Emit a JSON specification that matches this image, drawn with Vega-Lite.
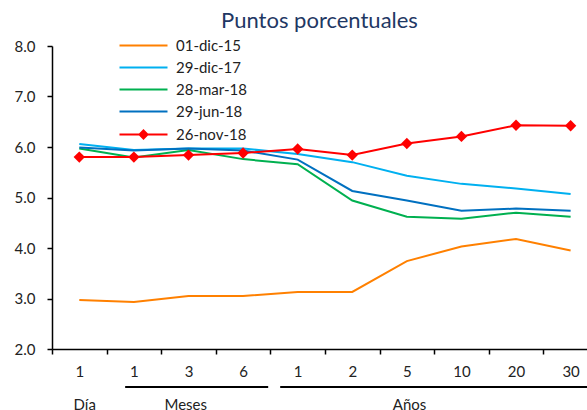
{
  "$schema": "https://vega.github.io/schema/vega-lite/v6.json",
  "width": 535,
  "height": 303,
  "autosize": {"type": "none"},
  "padding": {"left": 52, "top": 46, "right": 0, "bottom": 61},
  "background": "white",
  "config": {"font": "Lato", "view": {"stroke": null}},
  "title": {"text": "Puntos porcentuales", "fontSize": 22, "font": "Lato", "fontWeight": "normal", "color": "#1F3864", "anchor": "middle", "frame": "group", "baseline": "alphabetic", "offset": -12},
  "datasets": {
    "curvas": [
      {"serie": "01-dic-15", "t": 1, "valor": 2.97}, {"serie": "01-dic-15", "t": 2, "valor": 2.93}, {"serie": "01-dic-15", "t": 3, "valor": 3.05}, {"serie": "01-dic-15", "t": 4, "valor": 3.05}, {"serie": "01-dic-15", "t": 5, "valor": 3.13}, {"serie": "01-dic-15", "t": 6, "valor": 3.13}, {"serie": "01-dic-15", "t": 7, "valor": 3.74}, {"serie": "01-dic-15", "t": 8, "valor": 4.03}, {"serie": "01-dic-15", "t": 9, "valor": 4.18}, {"serie": "01-dic-15", "t": 10, "valor": 3.95},
      {"serie": "29-dic-17", "t": 1, "valor": 6.06}, {"serie": "29-dic-17", "t": 2, "valor": 5.94}, {"serie": "29-dic-17", "t": 3, "valor": 5.97}, {"serie": "29-dic-17", "t": 4, "valor": 5.97}, {"serie": "29-dic-17", "t": 5, "valor": 5.86}, {"serie": "29-dic-17", "t": 6, "valor": 5.70}, {"serie": "29-dic-17", "t": 7, "valor": 5.43}, {"serie": "29-dic-17", "t": 8, "valor": 5.27}, {"serie": "29-dic-17", "t": 9, "valor": 5.18}, {"serie": "29-dic-17", "t": 10, "valor": 5.07},
      {"serie": "28-mar-18", "t": 1, "valor": 5.97}, {"serie": "28-mar-18", "t": 2, "valor": 5.79}, {"serie": "28-mar-18", "t": 3, "valor": 5.94}, {"serie": "28-mar-18", "t": 4, "valor": 5.76}, {"serie": "28-mar-18", "t": 5, "valor": 5.66}, {"serie": "28-mar-18", "t": 6, "valor": 4.94}, {"serie": "28-mar-18", "t": 7, "valor": 4.62}, {"serie": "28-mar-18", "t": 8, "valor": 4.58}, {"serie": "28-mar-18", "t": 9, "valor": 4.70}, {"serie": "28-mar-18", "t": 10, "valor": 4.62},
      {"serie": "29-jun-18", "t": 1, "valor": 5.99}, {"serie": "29-jun-18", "t": 2, "valor": 5.93}, {"serie": "29-jun-18", "t": 3, "valor": 5.97}, {"serie": "29-jun-18", "t": 4, "valor": 5.93}, {"serie": "29-jun-18", "t": 5, "valor": 5.75}, {"serie": "29-jun-18", "t": 6, "valor": 5.13}, {"serie": "29-jun-18", "t": 7, "valor": 4.94}, {"serie": "29-jun-18", "t": 8, "valor": 4.74}, {"serie": "29-jun-18", "t": 9, "valor": 4.78}, {"serie": "29-jun-18", "t": 10, "valor": 4.74},
      {"serie": "26-nov-18", "t": 1, "valor": 5.80}, {"serie": "26-nov-18", "t": 2, "valor": 5.80}, {"serie": "26-nov-18", "t": 3, "valor": 5.84}, {"serie": "26-nov-18", "t": 4, "valor": 5.88}, {"serie": "26-nov-18", "t": 5, "valor": 5.96}, {"serie": "26-nov-18", "t": 6, "valor": 5.84}, {"serie": "26-nov-18", "t": 7, "valor": 6.07}, {"serie": "26-nov-18", "t": 8, "valor": 6.21}, {"serie": "26-nov-18", "t": 9, "valor": 6.43}, {"serie": "26-nov-18", "t": 10, "valor": 6.42}
    ],
    "grupos": [
      {"grupo": "Día", "centro": 1.1},
      {"grupo": "Meses", "centro": 2.95, "desde": 1.84, "hasta": 4.46},
      {"grupo": "Años", "centro": 7.05, "desde": 4.68, "hasta": 10.3}
    ]
  },
  "layer": [
    {
      "data": {"name": "curvas"},
      "mark": {"type": "line", "strokeWidth": 2},
      "encoding": {
        "x": {
          "field": "t", "type": "quantitative",
          "scale": {"domain": [0.5, 10.3], "nice": false, "zero": false},
          "axis": {
            "title": null,
            "values": [1, 2, 3, 4, 5, 6, 7, 8, 9, 10],
            "labelExpr": "datum.value == 1 ? '1' : datum.value == 2 ? '1' : datum.value == 3 ? '3' : datum.value == 4 ? '6' : datum.value == 5 ? '1' : datum.value == 6 ? '2' : datum.value == 7 ? '5' : datum.value == 8 ? '10' : datum.value == 9 ? '20' : '30'",
            "tickOffset": -27.3,
            "labelOffset": 27.3,
            "grid": false,
            "domainColor": "#000000", "domainWidth": 1.5,
            "tickColor": "#000000", "tickWidth": 1.5, "tickSize": 5,
            "labelFontSize": 15, "labelColor": "#222222", "labelPadding": 10,
            "labelFlush": false, "labelOverlap": false
          }
        },
        "y": {
          "field": "valor", "type": "quantitative",
          "scale": {"domain": [2, 8], "nice": false, "zero": false},
          "axis": {
            "title": null,
            "values": [2, 3, 4, 5, 6, 7, 8],
            "format": ".1f",
            "grid": false,
            "domainColor": "#000000", "domainWidth": 1.5,
            "tickColor": "#000000", "tickWidth": 1.5, "tickSize": 5,
            "labelFontSize": 15, "labelColor": "#222222", "labelPadding": 12
          }
        },
        "color": {
          "field": "serie", "type": "nominal",
          "scale": {
            "domain": ["01-dic-15", "29-dic-17", "28-mar-18", "29-jun-18", "26-nov-18"],
            "range": ["#FF8000", "#00B0F0", "#00B050", "#0070C0", "#FF0000"]
          },
          "legend": {
            "orient": "none", "legendX": 84, "legendY": -8,
            "title": null, "padding": 0,
            "symbolType": "M-4.8,0H4.8", "symbolSize": 100, "symbolStrokeWidth": 2,
            "labelFontSize": 15, "labelColor": "#222222", "labelOffset": 25, "labelLimit": 200,
            "rowPadding": 6,
            "encode": {
              "symbols": {
                "update": {
                  "shape": {"signal": "datum.value === '26-nov-18' ? 'M-4.8,0H4.8M0,-0.8L0.8,0L0,0.8L-0.8,0Z' : 'M-4.8,0H4.8'"},
                  "fill": {"signal": "datum.value === '26-nov-18' ? '#FF0000' : 'transparent'"}
                }
              }
            }
          }
        }
      }
    },
    {
      "data": {"name": "curvas"},
      "transform": [{"filter": "datum.serie === '26-nov-18'"}],
      "mark": {"type": "point", "shape": "diamond", "filled": true, "size": 130, "color": "#FF0000", "opacity": 1},
      "encoding": {
        "x": {"field": "t", "type": "quantitative", "scale": {"domain": [0.5, 10.3], "nice": false, "zero": false}},
        "y": {"field": "valor", "type": "quantitative", "scale": {"domain": [2, 8], "nice": false, "zero": false}}
      }
    },
    {
      "data": {"name": "grupos"},
      "transform": [{"filter": "isValid(datum.desde)"}],
      "mark": {"type": "rule", "strokeWidth": 2, "color": "#000000"},
      "encoding": {
        "x": {"field": "desde", "type": "quantitative", "scale": {"domain": [0.5, 10.3], "nice": false, "zero": false}},
        "x2": {"field": "hasta"},
        "y": {"datum": 1.25, "type": "quantitative", "scale": {"domain": [2, 8], "nice": false, "zero": false}}
      }
    },
    {
      "data": {"name": "grupos"},
      "mark": {"type": "text", "fontSize": 15, "color": "#222222", "baseline": "middle", "align": "center"},
      "encoding": {
        "x": {"field": "centro", "type": "quantitative", "scale": {"domain": [0.5, 10.3], "nice": false, "zero": false}},
        "y": {"datum": 0.9, "type": "quantitative", "scale": {"domain": [2, 8], "nice": false, "zero": false}},
        "text": {"field": "grupo"}
      }
    }
  ]
}
